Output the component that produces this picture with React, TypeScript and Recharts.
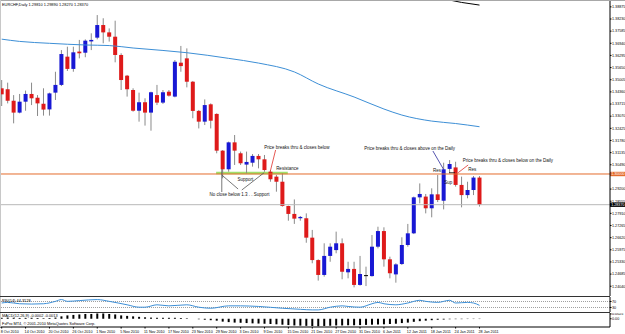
import React from "react";
import {
  Bar,
  ComposedChart,
  Line,
  ReferenceArea,
  ReferenceLine,
  Scatter,
  XAxis,
  YAxis
} from "recharts";

// EURCHF daily, 8 Oct 2010 .. 28 Jan 2011 (one entry per trading day)
const opens = [
  1.3455, 1.345, 1.3389, 1.3326, 1.3384, 1.3425, 1.3405, 1.3373, 1.3343, 1.3432,
  1.3473, 1.3623, 1.3558, 1.365, 1.3644, 1.3704, 1.3724, 1.3791, 1.3752, 1.3729,
  1.3632, 1.3522, 1.3446, 1.3336, 1.3381, 1.3326, 1.3419, 1.3379, 1.3437, 1.3411,
  1.3591, 1.3614, 1.349, 1.3335, 1.3278, 1.337, 1.3319, 1.3124, 1.3025, 1.3168,
  1.311, 1.305, 1.306, 1.3096, 1.3078, 1.3012, 1.2986, 1.2959, 1.283, 1.2788,
  1.2765, 1.2765, 1.2662, 1.2543, 1.2464, 1.2565, 1.2596, 1.2632, 1.2478, 1.2496,
  1.2411, 1.2462, 1.2458, 1.2614, 1.2697, 1.2547, 1.2467, 1.2522, 1.2623, 1.2685,
  1.2876, 1.288, 1.2818, 1.2892, 1.2858, 1.3027, 1.3035, 1.2942, 1.2888, 1.2915,
  1.2981
];
const highs = [
  1.3499, 1.3485, 1.3419, 1.3425, 1.3443, 1.3485, 1.3419, 1.3455, 1.3432, 1.3543,
  1.3658, 1.3676, 1.3676, 1.3712, 1.3715, 1.3747, 1.3844, 1.3827, 1.3773, 1.3814,
  1.3641, 1.3526, 1.3455, 1.3432, 1.3402, 1.3437, 1.3473, 1.3446, 1.3446, 1.3605,
  1.368, 1.3667, 1.3494, 1.334, 1.3396, 1.3375, 1.3322, 1.3127, 1.3172, 1.3207,
  1.3119, 1.3119, 1.3106, 1.3106, 1.3101, 1.3021, 1.2995, 1.3004, 1.2832, 1.2865,
  1.2777, 1.2791, 1.2703, 1.2547, 1.2632, 1.2632, 1.2694, 1.2658, 1.2534, 1.2534,
  1.2565, 1.2508, 1.2676, 1.272, 1.2717, 1.2561, 1.2526, 1.2664, 1.2735, 1.288,
  1.295, 1.2894, 1.2924, 1.2995, 1.306, 1.3074, 1.3065, 1.2986, 1.2959, 1.2989,
  1.2989
];
const lows = [
  1.3361, 1.3375, 1.3269, 1.3322, 1.3336, 1.3366, 1.3308, 1.331, 1.331, 1.3393,
  1.3467, 1.3547, 1.3543, 1.3614, 1.362, 1.3658, 1.3715, 1.3694, 1.3703, 1.3593,
  1.3446, 1.3411, 1.3331, 1.3278, 1.3257, 1.323, 1.3366, 1.3372, 1.3411, 1.3407,
  1.3543, 1.346, 1.3296, 1.3242, 1.326, 1.3242, 1.311, 1.2977, 1.3012, 1.3048,
  1.3048, 1.3004, 1.3039, 1.303, 1.3012, 1.2959, 1.2906, 1.2827, 1.2752, 1.2735,
  1.2752, 1.2635, 1.2526, 1.2434, 1.2455, 1.2534, 1.2579, 1.2441, 1.2446, 1.2398,
  1.2407, 1.2405, 1.2455, 1.2605, 1.2508, 1.2446, 1.2423, 1.2517, 1.2614, 1.2681,
  1.2844, 1.2791, 1.277, 1.2851, 1.2812, 1.3004, 1.2933, 1.2823, 1.2871, 1.2888,
  1.2827
];
const closes = [
  1.3423, 1.3389, 1.3326, 1.3384, 1.3425, 1.3402, 1.3375, 1.3342, 1.3428, 1.3473,
  1.3637, 1.3558, 1.3646, 1.3641, 1.3708, 1.3712, 1.3791, 1.3752, 1.3729, 1.3632,
  1.3499, 1.345, 1.3336, 1.3381, 1.3326, 1.3434, 1.3379, 1.3434, 1.3416, 1.3596,
  1.3573, 1.349, 1.3335, 1.3278, 1.3366, 1.3283, 1.3124, 1.3025, 1.3168, 1.3124,
  1.3057, 1.3064, 1.3096, 1.3078, 1.3021, 1.2972, 1.2959, 1.283, 1.2788, 1.2763,
  1.2772, 1.2662, 1.2543, 1.2464, 1.2565, 1.2614, 1.2632, 1.2481, 1.2496, 1.2411,
  1.2469, 1.2463, 1.2614, 1.2697, 1.2547, 1.2473, 1.252, 1.2623, 1.2685, 1.2876,
  1.2894, 1.2818, 1.2892, 1.2862, 1.3025, 1.3053, 1.2942, 1.2888, 1.2915, 1.2981,
  1.2837
];

// moving averages, read at a few points along the curves
const maPoints = [
  { i: 0, ma: 1.3716 }, { i: 3, ma: 1.3704 }, { i: 8, ma: 1.3694 }, { i: 14, ma: 1.3685 },
  { i: 18, ma: 1.3682 }, { i: 22, ma: 1.3669 }, { i: 27, ma: 1.3656 }, { i: 31, ma: 1.3644 },
  { i: 38, ma: 1.3614 }, { i: 43, ma: 1.3589 }, { i: 49, ma: 1.3542 }, { i: 53, ma: 1.3478 },
  { i: 59, ma: 1.3409 }, { i: 64, ma: 1.3345 }, { i: 67, ma: 1.3313 }, { i: 72, ma: 1.3281 },
  { i: 76, ma: 1.3268 }, { i: 80, ma: 1.3251 }
];
const slowMaPoints = [
  { i: 74, ma: 1.393 }, { i: 77, ma: 1.3911 }, { i: 80, ma: 1.3897 }
];

const rsiPoints = [
  { i: 0, rsi: 60 }, { i: 1, rsi: 64 }, { i: 3, rsi: 55 }, { i: 5, rsi: 53 }, { i: 7, rsi: 55 },
  { i: 9, rsi: 71 }, { i: 10, rsi: 83 }, { i: 11, rsi: 71 }, { i: 13, rsi: 76 }, { i: 16, rsi: 83 },
  { i: 18, rsi: 71 }, { i: 21, rsi: 48 }, { i: 23, rsi: 32 }, { i: 24, rsi: 32 }, { i: 26, rsi: 48 },
  { i: 28, rsi: 41 }, { i: 31, rsi: 48 }, { i: 33, rsi: 32 }, { i: 35, rsi: 25 }, { i: 38, rsi: 41 },
  { i: 40, rsi: 41 }, { i: 43, rsi: 37 }, { i: 47, rsi: 25 }, { i: 50, rsi: 18 }, { i: 52, rsi: 14 },
  { i: 53, rsi: 14 }, { i: 55, rsi: 32 }, { i: 57, rsi: 41 }, { i: 58, rsi: 37 }, { i: 60, rsi: 32 },
  { i: 62, rsi: 55 }, { i: 63, rsi: 64 }, { i: 64, rsi: 55 }, { i: 66, rsi: 48 }, { i: 68, rsi: 60 },
  { i: 70, rsi: 78 }, { i: 71, rsi: 71 }, { i: 73, rsi: 64 }, { i: 75, rsi: 78 }, { i: 76, rsi: 60 },
  { i: 78, rsi: 64 }, { i: 79, rsi: 60 }, { i: 80, rsi: 44.3 }
];

const macdValues = [
  0.0005, 0.0006, 0.0005, 0.0004, 0.00045, 0.0005, 0.0004, 0.0003, 0.0004, 0.0006,
  0.00125, 0.00175, 0.002, 0.00225, 0.0025, 0.0025, 0.00275, 0.00275, 0.0025, 0.00225,
  0.00175, 0.0015, 0.00125, 0.001, 0.00075, 0.0006, 0.0005, 0.0005, 0.0005, 0.0005,
  0.0004, 0.00025, 0.0, -0.00025, -0.0005, -0.00075, -0.001, -0.0015, -0.00175, -0.002,
  -0.0021, -0.00225, -0.0024, -0.0025, -0.0026, -0.00275, -0.0029, -0.0031, -0.0033, -0.0035,
  -0.0036, -0.0037, -0.0038, -0.0039, -0.00375, -0.00365, -0.0035, -0.0035, -0.0034, -0.0034,
  -0.0033, -0.0032, -0.0031, -0.003, -0.0029, -0.00275, -0.0026, -0.00225, -0.002, -0.0016,
  -0.00125, -0.001, -0.00075, -0.0005, -0.0004, -0.00025, -0.0002, -0.0002, -0.00015, -0.00015,
  -0.00015
];

const priceTicks = [
  1.38875, 1.3823, 1.37585, 1.3694, 1.36295, 1.3565, 1.35005, 1.3436, 1.33715, 1.3307,
  1.32425, 1.3178, 1.31135, 1.3049, 1.292, 1.28555, 1.2791, 1.27265, 1.2662, 1.25975,
  1.2533, 1.24685, 1.2404
];
const dateTicks = [0, 4, 8, 12, 16, 20, 24, 28, 32, 36, 40, 44, 48, 52, 56, 60, 64, 68, 72, 76, 80];
const dateLabels = [
  "8 Oct 2010", "14 Oct 2010", "20 Oct 2010", "26 Oct 2010", "1 Nov 2010", "5 Nov 2010",
  "11 Nov 2010", "17 Nov 2010", "23 Nov 2010", "29 Nov 2010", "3 Dec 2010", "9 Dec 2010",
  "15 Dec 2010", "21 Dec 2010", "27 Dec 2010", "31 Dec 2010", "6 Jan 2011", "12 Jan 2011",
  "18 Jan 2011", "24 Jan 2011", "28 Jan 2011"
];

const supportLevel = 1.3;
const lastClose = 1.2837;

const notes = [
  { i: 43.94, p: 1.31328, text: "Price breaks thru & closes below" },
  { i: 45.95, p: 1.30186, text: "Resistance" },
  { i: 39.5, p: 1.29602, text: "Support" },
  { i: 34.8, p: 1.28858, text: "No close below 1.3 . . Support" },
  { i: 60.7, p: 1.31248, text: "Price breaks thru & closes above on the Daily" },
  { i: 72.2, p: 1.30096, text: "Res" },
  { i: 74.1, p: 1.2946, text: "Sup" },
  { i: 77.2, p: 1.30627, text: "Price breaks thru & closes below on the Daily" },
  { i: 78.1, p: 1.30133, text: "Res" }
];

const connectors = [
  { i1: 45.86, p1: 1.31274, i2: 44.94, p2: 1.30106, color: "#e0302a" },
  { i1: 72.2, p1: 1.31221, i2: 73.97, p2: 1.3025, color: "#2a2a9a" },
  { i1: 78.1, p1: 1.30478, i2: 76.43, p2: 1.3007, color: "#e0302a" },
  { i1: 36.85, p1: 1.30265, i2: 36.85, p2: 1.29044, color: "#555" },
  { i1: 36.85, p1: 1.29947, i2: 39.58, p2: 1.29204, color: "#555" },
  { i1: 43.94, p1: 1.30069, i2: 40.2, p2: 1.2915, color: "#555" },
  { i1: 74.9, p1: 1.30069, i2: 75.9, p2: 1.30069, color: "#111" }
];

const candles = opens.map((open, i) => ({
  i,
  open,
  high: highs[i],
  low: lows[i],
  close: closes[i]
}));
const macd = macdValues.map((v, i) => ({ i, macd: v }));

const X_DOMAIN: [number, number] = [-0.285, 101.85];
const FONT = "Arial, 'Liberation Sans', sans-serif";
const BULL = "#1818d4";
const BEAR = "#de1a1a";
const MA_BLUE = "#3d8fd6";

function Candle(props: any) {
  const { x, y, width, height, payload } = props;
  if (!payload || height == null) return null;
  const { open, high, low, close } = payload;
  const top = Math.min(y, y + height);
  const h = Math.abs(height);
  const k = h / (high - low);
  const yOf = (v: number) => top + (high - v) * k;
  const cx = x + width / 2;
  const bTop = yOf(Math.max(open, close));
  const bBot = yOf(Math.min(open, close));
  const doji = Math.abs(close - open) < 0.00015;
  const fill = doji ? "#000" : close > open ? BULL : BEAR;
  return (
    <g>
      <line x1={cx} x2={cx} y1={top} y2={top + h} stroke="#8a8a8a" strokeWidth={1} />
      <rect x={cx - 2} y={bTop} width={4} height={Math.max(bBot - bTop, 1)} fill={fill} />
    </g>
  );
}

function NoteText(props: any) {
  const { cx, cy, payload } = props;
  return (
    <text x={cx} y={cy} fontSize={4.5} fill="#111" fontFamily={FONT}>
      {payload.text}
    </text>
  );
}

function PriceTag({ viewBox, text, bg }: any) {
  if (!viewBox) return null;
  const x = viewBox.x + viewBox.width;
  const y = viewBox.y;
  return (
    <g>
      <rect x={x} y={y - 2.2} width={15} height={4.4} fill={bg} />
      <text x={x + 1.2} y={y + 1.4} fontSize={3.7} fill="#fff" fontFamily={FONT}>
        {text}
      </text>
    </g>
  );
}

function DateTick({ x, y, payload }: any) {
  const k = dateTicks.indexOf(payload.value);
  return (
    <text x={x - 1} y={y + 4} fontSize={3.7} fill="#000" fontFamily={FONT}>
      {k >= 0 ? dateLabels[k] : ""}
    </text>
  );
}

const axisTick = { fontSize: 3.7, fill: "#000", fontFamily: FONT };

export default function App() {
  return (
    <div
      style={{
        position: "fixed",
        left: 0,
        top: 0,
        width: 625,
        height: 334,
        background: "#fff",
        overflow: "hidden",
        fontFamily: FONT
      }}
    >
      <div style={{ position: "absolute", left: 0, top: 0 }}>
        <ComposedChart width={625} height={296} data={candles} margin={{ top: 1, right: 0, bottom: 0, left: 0 }}>
          <XAxis type="number" dataKey="i" domain={X_DOMAIN} allowDataOverflow hide />
          <YAxis
            orientation="right"
            width={15}
            domain={[1.23522, 1.39186]}
            allowDataOverflow
            ticks={priceTicks}
            interval={0}
            tick={axisTick}
            tickSize={1.5}
            tickMargin={0.5}
            stroke="#000"
            tickFormatter={(v: number) => v.toFixed(5)}
          />
          <ReferenceArea x1={35.9} x2={47.9} y1={1.29985} y2={1.30122} fill="#9fe06c" fillOpacity={1} stroke="none" />
          <ReferenceLine
            y={supportLevel}
            stroke="#e46c2c"
            strokeWidth={1}
            label={<PriceTag text="1.30000" bg="#e46c2c" />}
          />
          <ReferenceLine
            y={lastClose}
            stroke="#b8b8b8"
            strokeWidth={1}
            label={<PriceTag text="1.28370" bg="#000" />}
          />
          <Line data={maPoints} dataKey="ma" type="monotone" stroke={MA_BLUE} strokeWidth={1} dot={false} isAnimationActive={false} />
          <Line data={slowMaPoints} dataKey="ma" type="linear" stroke="#000" strokeWidth={1} dot={false} isAnimationActive={false} />
          <Bar dataKey={(d: any) => [d.low, d.high]} barSize={5} shape={<Candle />} isAnimationActive={false} />
          {connectors.map((c, k) => (
            <ReferenceLine
              key={k}
              segment={[{ x: c.i1, y: c.p1 }, { x: c.i2, y: c.p2 }]}
              stroke={c.color}
              strokeWidth={0.8}
            />
          ))}
          <Scatter data={notes} dataKey="p" shape={<NoteText />} isAnimationActive={false} />
        </ComposedChart>
      </div>

      <div style={{ position: "absolute", left: 0, top: 297 }}>
        <ComposedChart width={625} height={15} margin={{ top: 0, right: 0, bottom: 0, left: 0 }}>
          <XAxis type="number" dataKey="i" domain={X_DOMAIN} allowDataOverflow hide />
          <YAxis
            orientation="right"
            width={15}
            domain={[0, 100]}
            ticks={[70, 30]}
            interval={0}
            tick={axisTick}
            tickSize={1.5}
            tickMargin={0.5}
            stroke="#000"
          />
          <ReferenceLine y={70} stroke="#a0a0a0" strokeDasharray="1 1" />
          <ReferenceLine y={30} stroke="#a0a0a0" strokeDasharray="1 1" />
          <Line data={rsiPoints} dataKey="rsi" type="monotone" stroke={MA_BLUE} strokeWidth={1} dot={false} isAnimationActive={false} />
        </ComposedChart>
      </div>

      <div style={{ position: "absolute", left: 0, top: 313 }}>
        <ComposedChart width={625} height={21} data={macd} margin={{ top: 0, right: 0, bottom: 0, left: 0 }}>
          <XAxis
            type="number"
            dataKey="i"
            domain={X_DOMAIN}
            allowDataOverflow
            height={7}
            ticks={dateTicks}
            interval={0}
            tick={<DateTick />}
            tickSize={1.5}
            tickMargin={0}
            stroke="#000"
          />
          <YAxis
            orientation="right"
            width={15}
            domain={[-0.0043, 0.003]}
            allowDataOverflow
            ticks={[0.0025, 0]}
            interval={0}
            tick={axisTick}
            tickSize={1.5}
            tickMargin={0.5}
            stroke="#000"
            tickFormatter={(v: number) => (v === 0 ? "0.00" : v.toFixed(4))}
          />
          <Bar dataKey="macd" barSize={2} fill="#000" isAnimationActive={false} />
        </ComposedChart>
      </div>

      <svg width={625} height={334} style={{ position: "absolute", left: 0, top: 0, pointerEvents: "none" }}>
        <line x1={0} x2={625} y1={0.5} y2={0.5} stroke="#a8a8a8" />
        <line x1={0.5} x2={0.5} y1={0} y2={327} stroke="#c8c8c8" />
        <line x1={0} x2={610} y1={296.5} y2={296.5} stroke="#333" />
        <line x1={0} x2={610} y1={312.5} y2={312.5} stroke="#333" />
        <text x={2} y={5.5} fontSize={3.9} fill="#000">EURCHF,Daily  1.29810 1.29890 1.28270 1.28370</text>
        <text x={2} y={302} fontSize={3.9} fill="#000">RSI(14) 44.3128</text>
        <text x={2} y={316.5} fontSize={3.9} fill="#000">MACD(12,26,9) -0.0002 -0.0013</text>
        <text x={2} y={325} fontSize={3.9} fill="#000">FxPro MT4, © 2001-2010 MetaQuotes Software Corp.</text>
      </svg>
    </div>
  );
}
